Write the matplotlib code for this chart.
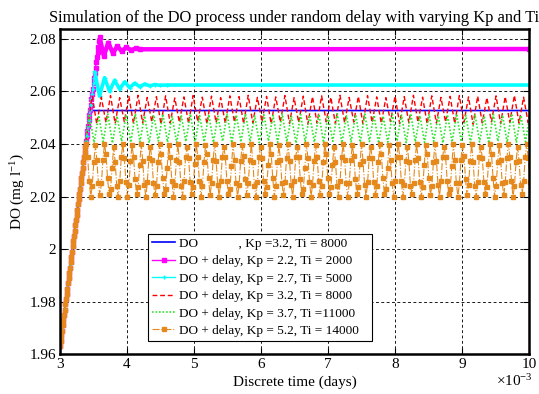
import numpy as np
import matplotlib
matplotlib.use("Agg")
import matplotlib.pyplot as plt

plt.rcParams["font.family"] = ["Liberation Serif", "DejaVu Serif"]
plt.rcParams["mathtext.fontset"] = "custom"
plt.rcParams["mathtext.rm"] = "Liberation Serif"
plt.rcParams["mathtext.it"] = "Liberation Serif:italic"

# ---- data (time in 1e-3 days, DO in mg/l) ----
# common start-up ramp, sampled every 0.01
ramp_step = 0.01
ramp_do = [1.963, 1.965, 1.967, 1.969, 1.971, 1.973, 1.975, 1.977, 1.979, 1.981,
           1.983, 1.985, 1.987, 1.989, 1.991, 1.993, 1.995, 1.997, 1.999, 2.001,
           2.003, 2.005, 2.007, 2.009, 2.011, 2.013, 2.015, 2.017, 2.019, 2.021,
           2.023, 2.025, 2.027, 2.029, 2.031, 2.033, 2.035, 2.037, 2.039, 2.041,
           2.043, 2.045, 2.047, 2.049, 2.051, 2.053, 2.055, 2.057, 2.059, 2.061,
           2.063, 2.065, 2.067, 2.069, 2.071, 2.073, 2.075, 2.077, 2.079]

# DO without delay
do_t = [3.45, 10.0]
do_v = [2.0527, 2.0527]

# Kp = 2.2, Ti = 2000
mag_t = [3.59, 3.655, 3.72, 3.79, 3.855, 3.92, 3.99, 4.06, 4.13, 4.20, 10.0]
mag_v = [2.0805, 2.0735, 2.0785, 2.0745, 2.0772, 2.0753, 2.0767, 2.0757, 2.0763, 2.0760, 2.0761]

# Kp = 2.7, Ti = 5000
cyan_t = [3.52, 3.59, 3.665, 3.74, 3.815, 3.89, 3.965, 4.04, 4.115, 4.19, 4.265,
          4.34, 4.415, 4.49, 4.60, 10.0]
cyan_v = [2.0672, 2.0582, 2.0652, 2.0600, 2.0642, 2.0608, 2.0636, 2.0614, 2.0631,
          2.0618, 2.0628, 2.0621, 2.0626, 2.0623, 2.0624, 2.0624]

# Kp = 3.2, Ti = 8000 (sustained oscillation: peaks and troughs)
red_t0 = 3.48
red_peaks = [2.0582, 2.0578, 2.0584, 2.0576, 2.0581, 2.0585, 2.0577, 2.0580, 2.0583, 2.0575,
             2.0579, 2.0584, 2.0578, 2.0582, 2.0576, 2.0583, 2.0580, 2.0585, 2.0577, 2.0581,
             2.0579, 2.0584, 2.0576, 2.0582, 2.0580, 2.0583, 2.0578, 2.0585, 2.0577, 2.0581,
             2.0584, 2.0579, 2.0576, 2.0582, 2.0580, 2.0585, 2.0578, 2.0583, 2.0577, 2.0581,
             2.0584, 2.0579, 2.0582, 2.0576, 2.0583, 2.0580, 2.0585, 2.0578, 2.0581]
red_troughs = [2.0476, 2.0481, 2.0478, 2.0484, 2.0477, 2.0480, 2.0483, 2.0475, 2.0479, 2.0482,
               2.0478, 2.0485, 2.0476, 2.0481, 2.0479, 2.0483, 2.0477, 2.0480, 2.0484, 2.0476,
               2.0482, 2.0478, 2.0481, 2.0475, 2.0479, 2.0484, 2.0477, 2.0480, 2.0483, 2.0476,
               2.0481, 2.0478, 2.0485, 2.0477, 2.0480, 2.0482, 2.0476, 2.0479, 2.0483, 2.0478,
               2.0481, 2.0475, 2.0480, 2.0484, 2.0477, 2.0482, 2.0479, 2.0481]

# Kp = 3.7, Ti = 11000
green_t0 = 3.44
green_peaks = [2.0512, 2.0508, 2.0514, 2.0506, 2.0511, 2.0515, 2.0507, 2.0510, 2.0513, 2.0505,
               2.0509, 2.0514, 2.0508, 2.0512, 2.0506, 2.0513, 2.0510, 2.0515, 2.0507, 2.0511,
               2.0509, 2.0514, 2.0506, 2.0512, 2.0510, 2.0513, 2.0508, 2.0515, 2.0507, 2.0511,
               2.0514, 2.0509, 2.0506, 2.0512, 2.0510, 2.0515, 2.0508, 2.0513, 2.0507, 2.0511,
               2.0514, 2.0509, 2.0512, 2.0506, 2.0513, 2.0510, 2.0515, 2.0508, 2.0511]
green_troughs = [2.0405, 2.0409, 2.0403, 2.0410, 2.0406, 2.0408, 2.0404, 2.0411, 2.0407, 2.0405,
                 2.0409, 2.0403, 2.0408, 2.0406, 2.0410, 2.0404, 2.0407, 2.0409, 2.0405, 2.0411,
                 2.0406, 2.0408, 2.0403, 2.0409, 2.0407, 2.0405, 2.0410, 2.0404, 2.0408, 2.0406,
                 2.0409, 2.0403, 2.0407, 2.0411, 2.0405, 2.0408, 2.0406, 2.0410, 2.0404, 2.0407,
                 2.0409, 2.0405, 2.0408, 2.0403, 2.0410, 2.0406, 2.0407, 2.0409]

# Kp = 5.2, Ti = 14000 (sampled values, 6 per cycle, in 1e-3 mg/l above 2.000)
orange_t0 = 3.39
orange_milli = """
40 35 26 20 24 33
39.5 34 25 20.5 25 34
40 36 27 21 23 31
39 33 24 20 26 35
40 34.5 25.5 20 24.5 33.5
39.5 35 26.5 21 23.5 32
40 33.5 24.5 20 25.5 34.5
39 34 25 20.5 24 33
40 36 27 21 23 31
39.5 35 26 20 24.5 34
40 33 24 20 26 35
39 34.5 25.5 21 23.5 32.5
40 35 26 20 24 33
39.5 36 27 20.5 25 34
40 33.5 24.5 20 26 35
39 35 26 21 23 31.5
40 34 25 20 24.5 33.5
39.5 35.5 26.5 20.5 25 34
40 33 24 20 25.5 35
39 34.5 26 21 23.5 32
40 36 27 20 24 33
39.5 34 25 20.5 25.5 34.5
40 33.5 24.5 20 26 35
39 35 26.5 21 23 31
40 34.5 25.5 20 24.5 33.5
39.5 35 26 20.5 24 33
40 36 27 21 23.5 32
39 33 24 20 26 35
40 34 25 20 25 34
39.5 35.5 26.5 21 23.5 32.5
40 33.5 24.5 20 25.5 34.5
39 34.5 25.5 20.5 24 33
40 36 27 21 23 31
39.5 34 25 20 26 35
40 35 26 20 24.5 33.5
39 33 24 21 25 34
40 34.5 25.5 20 23.5 32
39.5 36 27 20.5 24 33
40 33.5 24.5 20 26 35
39 35 26 21 23 31.5
40 34 25 20 25 34
39.5 35.5 26.5 20.5 24.5 33.5
40 33 24 20 25.5 35
39 34.5 25.5 21 23.5 32.5
40 36 27 20 24 33
39.5 34 25 20.5 25.5 34.5
40 35 26 20 24 33
39 33.5 24.5 21 26 35
40 34.5 25.5 20 24.5 33.5
"""

half_period = 0.0685
orange_step = 0.137 / 6

# ---- assemble series ----
ramp_do = np.array(ramp_do)
ramp_t = 3.0 + ramp_step * np.arange(len(ramp_do))

def interleave(peaks, troughs):
    out = np.empty(len(peaks) + len(troughs))
    out[0::2] = peaks
    out[1::2] = troughs
    return out

red_v = interleave(red_peaks, red_troughs)
red_t = red_t0 + half_period * np.arange(len(red_v))
green_v = interleave(green_peaks, green_troughs)
green_t = green_t0 + half_period * np.arange(len(green_v))
orange_v = 2.0 + np.array(orange_milli.split(), float) / 1000.0
orange_t = orange_t0 + orange_step * np.arange(len(orange_v))

c_blue = "#0000FF"
c_mag = "#FF00FF"
c_cyan = "#00FFFF"
c_red = "#FF0000"
c_green = "#2EE62E"
c_orange = "#E5891C"

fig = plt.figure(figsize=(5.39, 3.94), dpi=100)
ax = fig.add_axes([60 / 539, 1 - 354.3 / 394, 469 / 539, 325 / 394])

n_do, n_mag, n_cyan, n_red, n_green, n_or = 45, 59, 52, 47, 44, 39

ax.plot(np.r_[ramp_t[:n_do], do_t], np.r_[ramp_do[:n_do], do_v], color=c_blue, lw=1.2,
        label="DO            , Kp =3.2, Ti = 8000")

ax.plot(mag_t, mag_v, color=c_mag, lw=3.2, solid_capstyle="butt")
ax.plot(np.r_[ramp_t[:n_mag], mag_t], np.r_[ramp_do[:n_mag], mag_v], color=c_mag, lw=1.0,
        marker="s", ms=2.5, mec=c_mag, label="DO + delay, Kp = 2.2, Ti = 2000")

ax.plot(cyan_t, cyan_v, color=c_cyan, lw=2.6)
ax.plot(np.r_[ramp_t[:n_cyan], cyan_t], np.r_[ramp_do[:n_cyan], cyan_v], color=c_cyan, lw=1.0,
        marker="+", ms=3.5, mew=1.0, label="DO + delay, Kp = 2.7, Ti = 5000")

ax.plot(np.r_[ramp_t[:n_red], red_t], np.r_[ramp_do[:n_red], red_v], color=c_red, lw=1.0,
        linestyle=(0, (3.5, 2.0)), label="DO + delay, Kp = 3.2, Ti = 8000")

ax.plot(np.r_[ramp_t[:n_green], green_t], np.r_[ramp_do[:n_green], green_v], color=c_green, lw=1.2,
        linestyle=(0, (1.0, 1.1)), label="DO + delay, Kp = 3.7, Ti =11000")

ax.plot(np.r_[ramp_t[:n_or], orange_t], np.r_[ramp_do[:n_or], orange_v], color=c_orange, lw=0.8,
        linestyle="-.", marker="s", ms=3.0, mec=c_orange, label="DO + delay, Kp = 5.2, Ti = 14000")

ax.set_xlim(3, 10)
ax.set_ylim(1.96, 2.0836)
xticks = [3, 4, 5, 6, 7, 8, 9, 10]
yticks = [1.96, 1.98, 2.0, 2.02, 2.04, 2.06, 2.08]
ax.set_xticks(xticks)
ax.set_xticklabels([str(v) for v in xticks])
ax.set_yticks(yticks)
ax.set_yticklabels(["1.96", "1.98", "2", "2.02", "2.04", "2.06", "2.08"])
ax.tick_params(direction="in", length=4, width=0.8, labelsize=11, top=True, right=True, pad=3)

ax.grid(True, color="0.1", linestyle=(0, (3, 2.5)), linewidth=0.7)
for s in ax.spines.values():
    s.set_linewidth(1.8)

ax.set_title("Simulation of the DO process under random delay with varying Kp and Ti",
             fontsize=11.9, pad=5)
ax.set_xlabel("Discrete time (days)", fontsize=11, labelpad=3)
ax.set_ylabel("DO (mg l$^{-1}$)", fontsize=11, labelpad=1.5)
ax.text(1.008, -0.058, r"$\times$10$^{-3}$", transform=ax.transAxes, ha="right", va="top", fontsize=11)

leg = ax.legend(loc="lower left", bbox_to_anchor=(0.188, 0.041, 0.477, 0.3), mode="expand",
                fontsize=9.5, frameon=True, fancybox=False, framealpha=1, edgecolor="black",
                borderpad=0.3, labelspacing=0.39, handlelength=1.75, handletextpad=0.3,
                numpoints=1, borderaxespad=0)
leg.get_frame().set_linewidth(0.8)

fig.savefig("out.png", dpi=100)
